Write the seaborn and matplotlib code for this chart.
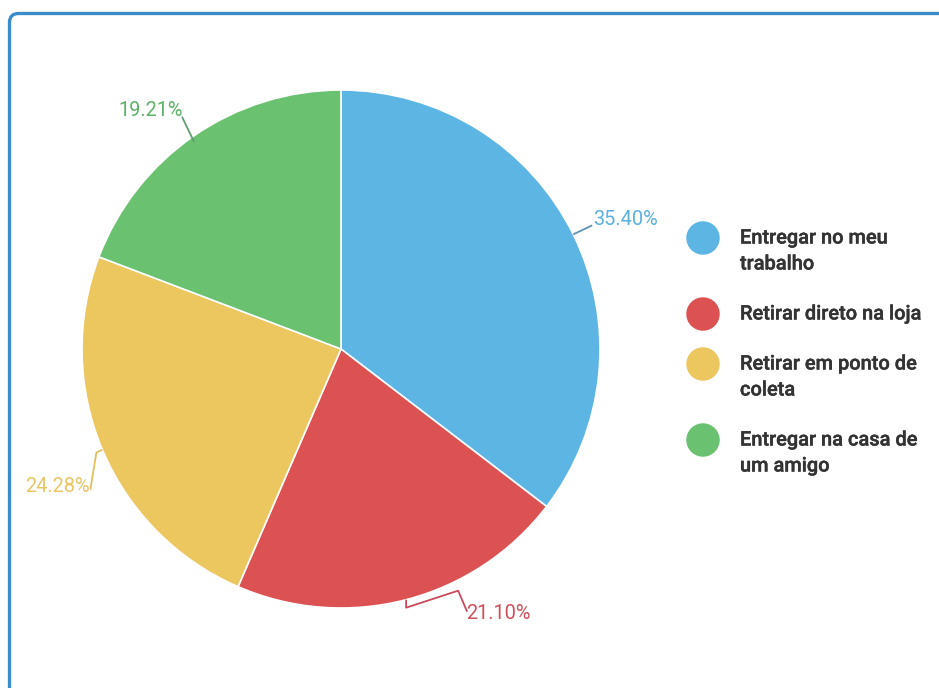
import matplotlib
matplotlib.use("Agg")
import matplotlib.pyplot as plt
import matplotlib.patheffects as pe
from matplotlib.patches import FancyBboxPatch
import numpy as np
import seaborn as sns

# Delivery preference shares (%)
categories = [
    "Entregar no meu\ntrabalho",
    "Retirar direto na loja",
    "Retirar em ponto de\ncoleta",
    "Entregar na casa de\num amigo",
]
shares = [35.40, 21.10, 24.28, 19.21]
slice_colors = ["#5DB5E4", "#DC5152", "#ECC65F", "#6AC16F"]
label_colors = ["#5BB0DF", "#CF4F5A", "#E9C566", "#5DB367"]
connector_colors = ["#5E93B5", "#C9495A", "#E3BE5C", "#5F9F72"]

sns.set_theme(style="white")
plt.rcParams["font.family"] = ["Roboto", "DejaVu Sans"]

W, H = 939, 688
fig = plt.figure(figsize=(W / 100, H / 100), dpi=100)
ax = fig.add_axes([0, 0, 1, 1])

def py(y):
    """Convert a top-down pixel row into the axes' upward y coordinate."""
    return H - y

palette = sns.color_palette(slice_colors)
cx, cy, radius = 341, py(349), 259

wedges, _ = ax.pie(
    shares,
    colors=palette,
    startangle=90,
    counterclock=False,
    center=(cx, cy),
    radius=radius,
    wedgeprops=dict(edgecolor="white", linewidth=1.2),
)
ax.set_xlim(0, W)
ax.set_ylim(0, H)
ax.set_aspect("equal")
ax.axis("off")

# Connector paths (pixel offsets from the wedge edge, y downward) and label placement
connectors = [
    ([(0, 0), (19, -9)], (20, -15), "left"),
    ([(0, 0), (0, 8), (52, -9), (61, 12)], (60, 14), "left"),
    ([(0, 0), (-6, 3), (-12, 40)], (-13, 37), "right"),
    ([(0, 6), (-12, -19)], (-11, -25), "right"),
]

total = sum(shares)
start = 0.0
for val, w, lc, cc, (path, toff, ha) in zip(shares, wedges, label_colors,
                                            connector_colors, connectors):
    mid = (start + val / 2) / total * 2 * np.pi
    start += val
    ex = cx + radius * np.sin(mid)
    ey = cy + radius * np.cos(mid)
    xs = [ex + dx for dx, dy in path]
    ys = [ey - dy for dx, dy in path]
    ax.plot(xs, ys, color=cc, lw=1.3, solid_capstyle="butt")
    ax.text(ex + toff[0], ey - toff[1], f"{val:.2f}%", color=lc,
            fontsize=14.4, ha=ha, va="center")

# Legend
heavier = [pe.withStroke(linewidth=0.3, foreground="#333333")]
y = 238
for name, col in zip(categories, slice_colors):
    ax.scatter([703], [py(y)], s=580, color=col, edgecolors="none", zorder=3)
    lines = name.split("\n")
    for k, line in enumerate(lines):
        ax.text(740, py(y + 26 * k), line, color="#333333", fontsize=14.4,
                fontweight="medium", ha="left", va="center",
                path_effects=heavier)
    y += 26 * (len(lines) - 1) + 50

# Panel border
frame = FancyBboxPatch((9.5, -30), 980, py(13.5) + 30,
                       boxstyle="round,pad=0,rounding_size=9",
                       facecolor="none", edgecolor="#3B8DC9", linewidth=2.4,
                       zorder=0)
ax.add_patch(frame)

fig.savefig("out.png", dpi=100, facecolor="white")
